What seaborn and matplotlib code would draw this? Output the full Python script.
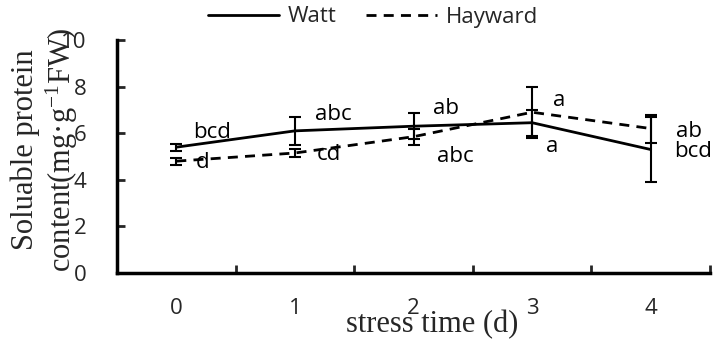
import numpy as np
import pandas as pd
import matplotlib
matplotlib.use("Agg")
import matplotlib.pyplot as plt
import seaborn as sns

# ---- data ----
days = [0, 1, 2, 3, 4]
watt = [5.4, 6.1, 6.3, 6.45, 5.3]
watt_err = [0.15, 0.6, 0.55, 0.55, 1.4]
hayward = [4.8, 5.15, 5.85, 6.9, 6.2]
hayward_err = [0.15, 0.17, 0.35, 1.1, 0.6]
watt_letters = ["bcd", "abc", "ab", "a", "bcd"]
hayward_letters = ["d", "cd", "abc", "a", "ab"]
# letter label positions (data coords)
watt_lab_xy = [(0.30, 6.02), (1.32, 6.79), (2.27, 7.05), (3.17, 5.41), (4.36, 5.2)]
hayward_lab_xy = [(0.22, 4.73), (1.29, 5.07), (2.35, 4.98), (3.23, 7.39), (4.32, 6.06)]
yticks = [0, 2, 4, 6, 8, 10]

df = pd.DataFrame({
    "day": days * 2,
    "value": watt + hayward,
    "err": watt_err + hayward_err,
    "variety": ["Watt"] * 5 + ["Hayward"] * 5,
})

sns.set_theme(style="white")
plt.rcParams["font.family"] = ["Open Sans", "DejaVu Sans"]
plt.rcParams["mathtext.default"] = "regular"

fig = plt.figure(figsize=(7.14, 3.45), dpi=100)
ax = fig.add_axes([117 / 714, 72 / 345, 593 / 714, 233 / 345])

sns.lineplot(data=df, x="day", y="value", style="variety",
             dashes={"Watt": "", "Hayward": (3.6, 2.6)},
             color="black", linewidth=2, ax=ax, legend=True,
             style_order=["Watt", "Hayward"])

for name, vals, errs in [("Watt", watt, watt_err), ("Hayward", hayward, hayward_err)]:
    ax.errorbar(days, vals, yerr=errs, fmt="none", ecolor="black",
                elinewidth=1.5, capsize=4, capthick=1.5)

for (x, y), t in zip(watt_lab_xy, watt_letters):
    ax.text(x, y, t, ha="center", va="center", fontsize=16, color="black")
for (x, y), t in zip(hayward_lab_xy, hayward_letters):
    ax.text(x, y, t, ha="center", va="center", fontsize=16, color="black")

ax.set_xlim(-0.5, 4.5)
ax.set_ylim(0, 10)
ax.set_yticks(yticks)
ax.set_xticks(days)
ax.set_xticks([0.5, 1.5, 2.5, 3.5, 4.5], minor=True)
ax.tick_params(axis="x", which="major", length=0, pad=18, labelsize=16)
ax.tick_params(axis="x", which="minor", length=6, width=2, direction="in", bottom=True)
ax.tick_params(axis="y", which="major", length=6, width=2, direction="in", pad=22,
               labelsize=16, left=True)

for s in ["top", "right"]:
    ax.spines[s].set_visible(False)
for s in ["left", "bottom"]:
    ax.spines[s].set_linewidth(2.5)
    ax.spines[s].set_color("black")

ax.set_xlabel("stress time (d)", family=["Liberation Serif", "DejaVu Serif"], fontsize=22)
ax.xaxis.set_label_coords(0.531, -0.16)
ax.set_ylabel("")
fig.text(45 / 714, 195 / 345, "Soluable protein\ncontent(mg·g$^{-1}$FW)",
         rotation=90, ha="center", va="center", multialignment="center",
         family=["Liberation Serif", "DejaVu Serif"], fontsize=22, linespacing=1.15)

handles, labels = ax.get_legend_handles_labels()
leg = ax.legend(handles, labels, ncol=2, frameon=False, fontsize=16,
                loc="center", bbox_to_anchor=((373 - 117) / 593, (345 - 17 - 72) / 233),
                handlelength=3.2, columnspacing=1.3, handletextpad=0.4)
for line in leg.get_lines():
    line.set_linewidth(2)

fig.savefig("out.png", dpi=100)
